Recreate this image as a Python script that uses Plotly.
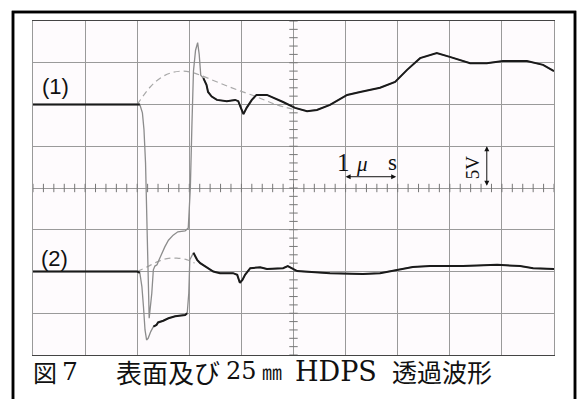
import numpy as np
import plotly.graph_objects as go

# ---- data (x in µs = divisions, y in divisions of 5 V) ----
t1 = [0.0, 2.0, 2.05, 2.1, 2.13, 2.16, 2.2, 2.23, 2.28, 2.31, 2.34, 2.38, 2.42, 2.47, 2.53, 2.6, 2.69, 2.78, 2.92,
      2.98, 3.02, 3.05, 3.08, 3.12, 3.16, 3.19, 3.22, 3.27, 3.33, 3.36, 3.43, 3.53, 3.72, 3.88, 3.94, 3.99, 4.04, 4.1,
      4.2, 4.29, 4.49, 4.8, 5.03, 5.26, 5.45, 5.7, 6.03, 6.28, 6.66, 6.95, 7.18, 7.43, 7.75, 8.0, 8.39, 8.71, 9.02,
      9.48, 9.79, 10.0]
v1 = [2.0, 2.0, 2.0, 1.8, 1.4, 0.6, -1.5, -3.12, -2.52, -1.96, -1.87, -1.84, -1.72, -1.56, -1.41, -1.25, -1.13, -1.05,
      -1.03, -0.96, 0.0, 1.5, 2.8, 3.3, 3.48, 3.2, 2.7, 2.63, 2.47, 2.3, 2.19, 2.11, 2.08, 2.11, 2.08, 1.92, 1.77, 1.92,
      2.11, 2.23, 2.23, 2.06, 1.92, 1.84, 1.87, 1.99, 2.23, 2.3, 2.4, 2.54, 2.83, 3.11, 3.23, 3.14, 2.99, 2.99, 3.04,
      3.04, 2.95, 2.8]
slow1 = [(0.0, 2.05), (3.27, 10.0)]

t2 = [0.0, 2.0, 2.05, 2.09, 2.12, 2.15, 2.18, 2.21, 2.26, 2.31, 2.37, 2.4, 2.5, 2.6, 2.73, 2.92, 2.96, 2.99, 3.01,
      3.08, 3.11, 3.15, 3.21, 3.3, 3.37, 3.46, 3.59, 3.84, 3.92, 3.97, 4.02, 4.07, 4.17, 4.36, 4.49, 4.8, 4.89, 5.03,
      5.07, 5.7, 6.33, 6.66, 6.99, 7.29, 7.62, 8.25, 8.91, 9.35, 9.6, 10.0]
v2 = [-2.0, -2.0, -2.03, -2.36, -2.84, -3.4, -3.64, -3.6, -3.44, -3.32, -3.28, -3.22, -3.18, -3.12, -3.07, -3.04, -3.0,
      -2.52, -1.72, -1.55, -1.64, -1.72, -1.8, -1.87, -1.92, -2.0, -2.04, -2.04, -2.08, -2.27, -2.2, -2.08, -1.92,
      -1.9, -1.94, -1.92, -1.87, -1.97, -1.99, -2.04, -2.06, -2.04, -1.96, -1.89, -1.87, -1.87, -1.84, -1.87, -1.92,
      -1.94]
slow2 = [(0.0, 2.05), (2.31, 2.96), (3.08, 10.0)]

td1 = [2.0, 2.25, 2.44, 2.63, 2.88, 3.1, 3.59, 3.92, 4.3, 4.64, 5.03]
vd1 = [2.0, 2.42, 2.63, 2.75, 2.8, 2.75, 2.51, 2.35, 2.18, 2.01, 1.87]
td2 = [2.0, 2.19, 2.38, 2.57, 2.76, 2.96, 3.1]
vd2 = [-2.0, -1.89, -1.77, -1.69, -1.68, -1.72, -1.8]

# caption pieces: (text, centre x in px of the page, font kind, size)
caption_parts = [("図", 45, "cjk", 24), ("7", 70, "lat", 25), ("表面及び", 168, "cjk", 26),
                 ("25", 241, "lat", 24), ("㎜", 272, "cjk", 20), ("HDPS", 336, "lat", 27),
                 ("透過波形", 442, "cjk", 25)]


def masked(t, v, ranges):
    out = []
    for ti, vi in zip(t, v):
        ok = any(a <= ti <= b for a, b in ranges)
        out.append(vi if ok else None)
    return out


fig = go.Figure()

# minor ticks on centre lines
tx = np.arange(0, 10.01, 0.2)
ty = np.arange(-4, 4.01, 0.2)
fig.add_trace(go.Scatter(x=tx, y=[0] * len(tx), mode="markers",
                         marker=dict(symbol="line-ns", size=6, line=dict(width=1, color="#777")),
                         hoverinfo="skip", showlegend=False))
fig.add_trace(go.Scatter(x=[5] * len(ty), y=ty, mode="markers",
                         marker=dict(symbol="line-ew", size=6, line=dict(width=1, color="#777")),
                         hoverinfo="skip", showlegend=False))

# dashed reference curves
for td, vd in [(td1, vd1), (td2, vd2)]:
    fig.add_trace(go.Scatter(x=td, y=vd, mode="lines", line=dict(color="#a8a8a8", width=1.2, dash="6px,4px"),
                             line_shape="spline", hoverinfo="skip", showlegend=False))

# waveforms: fast parts in grey, slow parts in black
for t, v, sl in [(t1, v1, slow1), (t2, v2, slow2)]:
    fig.add_trace(go.Scatter(x=t, y=v, mode="lines", line=dict(color="#8c8c8c", width=1.3),
                             hoverinfo="skip", showlegend=False))
    fig.add_trace(go.Scatter(x=t, y=masked(t, v, sl), mode="lines", line=dict(color="#1a1a1a", width=2),
                             connectgaps=False, hoverinfo="skip", showlegend=False))

# centre lines
fig.add_hline(y=0, line=dict(color="#666", width=1), layer="below")
fig.add_vline(x=5, line=dict(color="#666", width=1), layer="below")

fig.update_xaxes(range=[0, 10], dtick=1, showticklabels=False, ticks="", showgrid=True, gridcolor="#9a9a9a",
                 gridwidth=1, zeroline=False, showline=True, linecolor="#444", linewidth=1, mirror=True,
                 fixedrange=True)
fig.update_yaxes(range=[-4, 4], dtick=1, showticklabels=False, ticks="", showgrid=True, gridcolor="#9a9a9a",
                 gridwidth=1, zeroline=False, showline=True, linecolor="#999", linewidth=1, mirror=True,
                 fixedrange=True)

L, R, T, B = 33, 28, 21, 44
PW, PH = 582 - L - R, 399 - T - B

serif = "DejaVu Serif, Liberation Serif, serif"
cjk = "Noto Sans CJK JP"
ann = []
for txt, cx, kind, sz in caption_parts:
    ann.append(dict(x=(cx - L) / PW, y=(399 - B - 371) / PH, xref="paper", yref="paper", text=txt,
                    showarrow=False, xanchor="center", yanchor="middle",
                    font=dict(family=serif if kind == "lat" else cjk, size=sz, color="#111")))
ann += [
    dict(x=0.44, y=2.42, xref="x", yref="y", text="(1)", showarrow=False, xanchor="center", yanchor="middle",
         font=dict(family="Liberation Sans", size=22, color="#111")),
    dict(x=0.42, y=-1.7, xref="x", yref="y", text="(2)", showarrow=False, xanchor="center", yanchor="middle",
         font=dict(family="Liberation Sans", size=22, color="#111")),
    dict(x=5.95, y=0.62, xref="x", yref="y", text="1", showarrow=False,
         font=dict(family="Liberation Serif", size=25, color="#111")),
    dict(x=6.31, y=0.58, xref="x", yref="y", text="<i>μ</i>", showarrow=False,
         font=dict(family="Liberation Serif", size=21, color="#111")),
    dict(x=6.9, y=0.6, xref="x", yref="y", text="s", showarrow=False,
         font=dict(family="Liberation Serif", size=23, color="#111")),
    dict(x=6.0, y=0.27, ax=7.0, ay=0.27, xref="x", yref="y", axref="x", ayref="y", text="", showarrow=True,
         arrowhead=2, arrowside="end+start", arrowsize=1, arrowwidth=1, arrowcolor="#111"),
    dict(x=8.43, y=0.5, xref="x", yref="y", text="5V", textangle=-90, showarrow=False,
         font=dict(family="Liberation Serif", size=19, color="#111")),
    dict(x=8.71, y=1.0, ax=8.71, ay=0.02, xref="x", yref="y", axref="x", ayref="y", text="", showarrow=True,
         arrowhead=2, arrowside="end+start", arrowsize=1, arrowwidth=1, arrowcolor="#111"),
]

fig.update_layout(
    width=582, height=399,
    margin=dict(l=L, r=R, t=T, b=B, autoexpand=False),
    paper_bgcolor="white", plot_bgcolor="#fefbfd",
    annotations=ann,
    shapes=[dict(type="rect", xref="paper", yref="paper",
                 x0=(13 - L) / PW, x1=(575 - L) / PW, y0=(399 - B - 420) / PH, y1=(399 - B - 12) / PH,
                 line=dict(color="black", width=2.5), layer="above")],
)

fig.write_html("out.html", config={"displayModeBar": False},
               post_script="document.body.style.margin='0';document.body.style.padding='0';")
